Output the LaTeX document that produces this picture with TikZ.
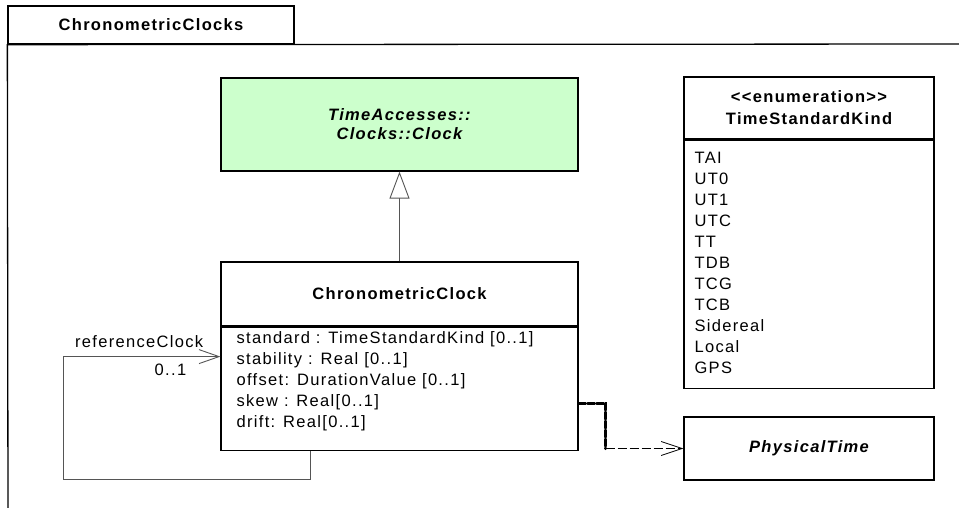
\documentclass[tikz,border=0pt]{standalone}
\usepackage{fontspec}
\newfontfamily\umlfont{Liberation Sans}[LetterSpace=8]
\usetikzlibrary{positioning,arrows.meta,calc}
\definecolor{clockgreen}{HTML}{CCFFCC}
\definecolor{linegray}{HTML}{555555}

\begin{document}
\begin{tikzpicture}[
    x=1pt, y=-1pt,
    font=\umlfont\fontsize{16.5}{21}\selectfont,
    box/.style={draw, line width=1.2pt, fill=white, inner sep=0pt},
    head/.style={box, font=\umlfont\bfseries\fontsize{16.5}{22}\selectfont,
                 align=center},
    items/.style={anchor=north west, align=left, inner sep=0pt},
    assoc/.style={draw=linegray, line width=0.9pt},
    gen/.style={assoc, -{Triangle[open, length=27pt, width=20pt, fill=white]}},
    depthick/.style={line width=3.2pt, dash pattern=on 7pt off 2pt,
                     line cap=round},
    dep/.style={line width=1.5pt, dash pattern=on 9pt off 3pt,
                -{Straight Barb[length=21pt, width=14pt, line width=0.8pt]}},
  ]
  \useasboundingbox (0,0) rectangle (959,507);

  % --- package frame ---
  \node[box, line width=1.3pt, minimum width=286, minimum height=38,
        font=\umlfont\bfseries\fontsize{16.5}{18}\selectfont] (pkg) at (151,25)
    {ChronometricClocks};
  \draw[line width=1.3pt] (970,44) -- (pkg.south west) -- (8,520);

  % --- superclass (left, top) ---
  \node[head, fill=clockgreen, minimum width=357, minimum height=93,
        font=\umlfont\bfseries\itshape\fontsize{16.5}{19}\selectfont]
    (clock) at (399.5,124.5) {TimeAccesses::\\Clocks::Clock};

  % --- ChronometricClock class ---
  \node[head, minimum width=357, minimum height=64] (cchead) at (399.5,294)
    {ChronometricClock};
  \node[box, minimum width=357, minimum height=123, below=0pt of cchead]
    (ccattr) {};
  \node[items] (ccattrtext) at ($(ccattr.north west)+(16,4.5)$)
    {standard : TimeStandardKind [0..1]\\
     stability : Real [0..1]\\
     offset: DurationValue [0..1]\\
     skew : Real[0..1]\\
     drift: Real[0..1]};

  \draw[gen] (cchead.north) -- (clock.south);

  % --- enumeration (right) ---
  \node[head, minimum width=250, minimum height=62] (tsk) at (809,108)
    {{<}{<}enumeration{>}{>}\\TimeStandardKind};
  \node[box, minimum width=250, minimum height=248, below=0pt of tsk]
    (tskitems) {};
  \node[items] (tsktext) at ($(tskitems.north west)+(11,12.5)$)
    {TAI\\UT0\\UT1\\UTC\\TT\\TDB\\TCG\\TCB\\Sidereal\\Local\\GPS};

  % --- PhysicalTime ---
  \node[head, minimum width=250, minimum height=63,
        font=\umlfont\bfseries\itshape\fontsize{16.5}{18}\selectfont]
    (ptime) at (809,448.5) {PhysicalTime};

  % self association
  \coordinate (selfIn) at ($(ccattr.north west)+(0,30)$);
  \draw[assoc, -{Straight Barb[length=20pt, width=14pt]}]
    ($(ccattr.south west)+(90,0)$) -- ($(ccattr.south west)+(90,29)$)
    -- ($(ccattr.south west)+(-157,29)$) |- (selfIn);
  \node[anchor=base east, inner sep=0pt] (refname) at ($(selfIn)+(-17,-9)$)
    {referenceClock};
  \node[anchor=base east, inner sep=0pt] (refmult) at ($(selfIn)+(-34,19)$)
    {0..1};

  % dependency
  \coordinate (depOut) at ($(ccattr.east)+(0,14.5)$);
  \coordinate (depBend) at ($(depOut)+(27,0)$);
  \draw[depthick] (depOut) -- (depBend) -- (depBend |- ptime.west);
  \draw[dep] (depBend |- ptime.west) -- (ptime.west);
\end{tikzpicture}
\end{document}
